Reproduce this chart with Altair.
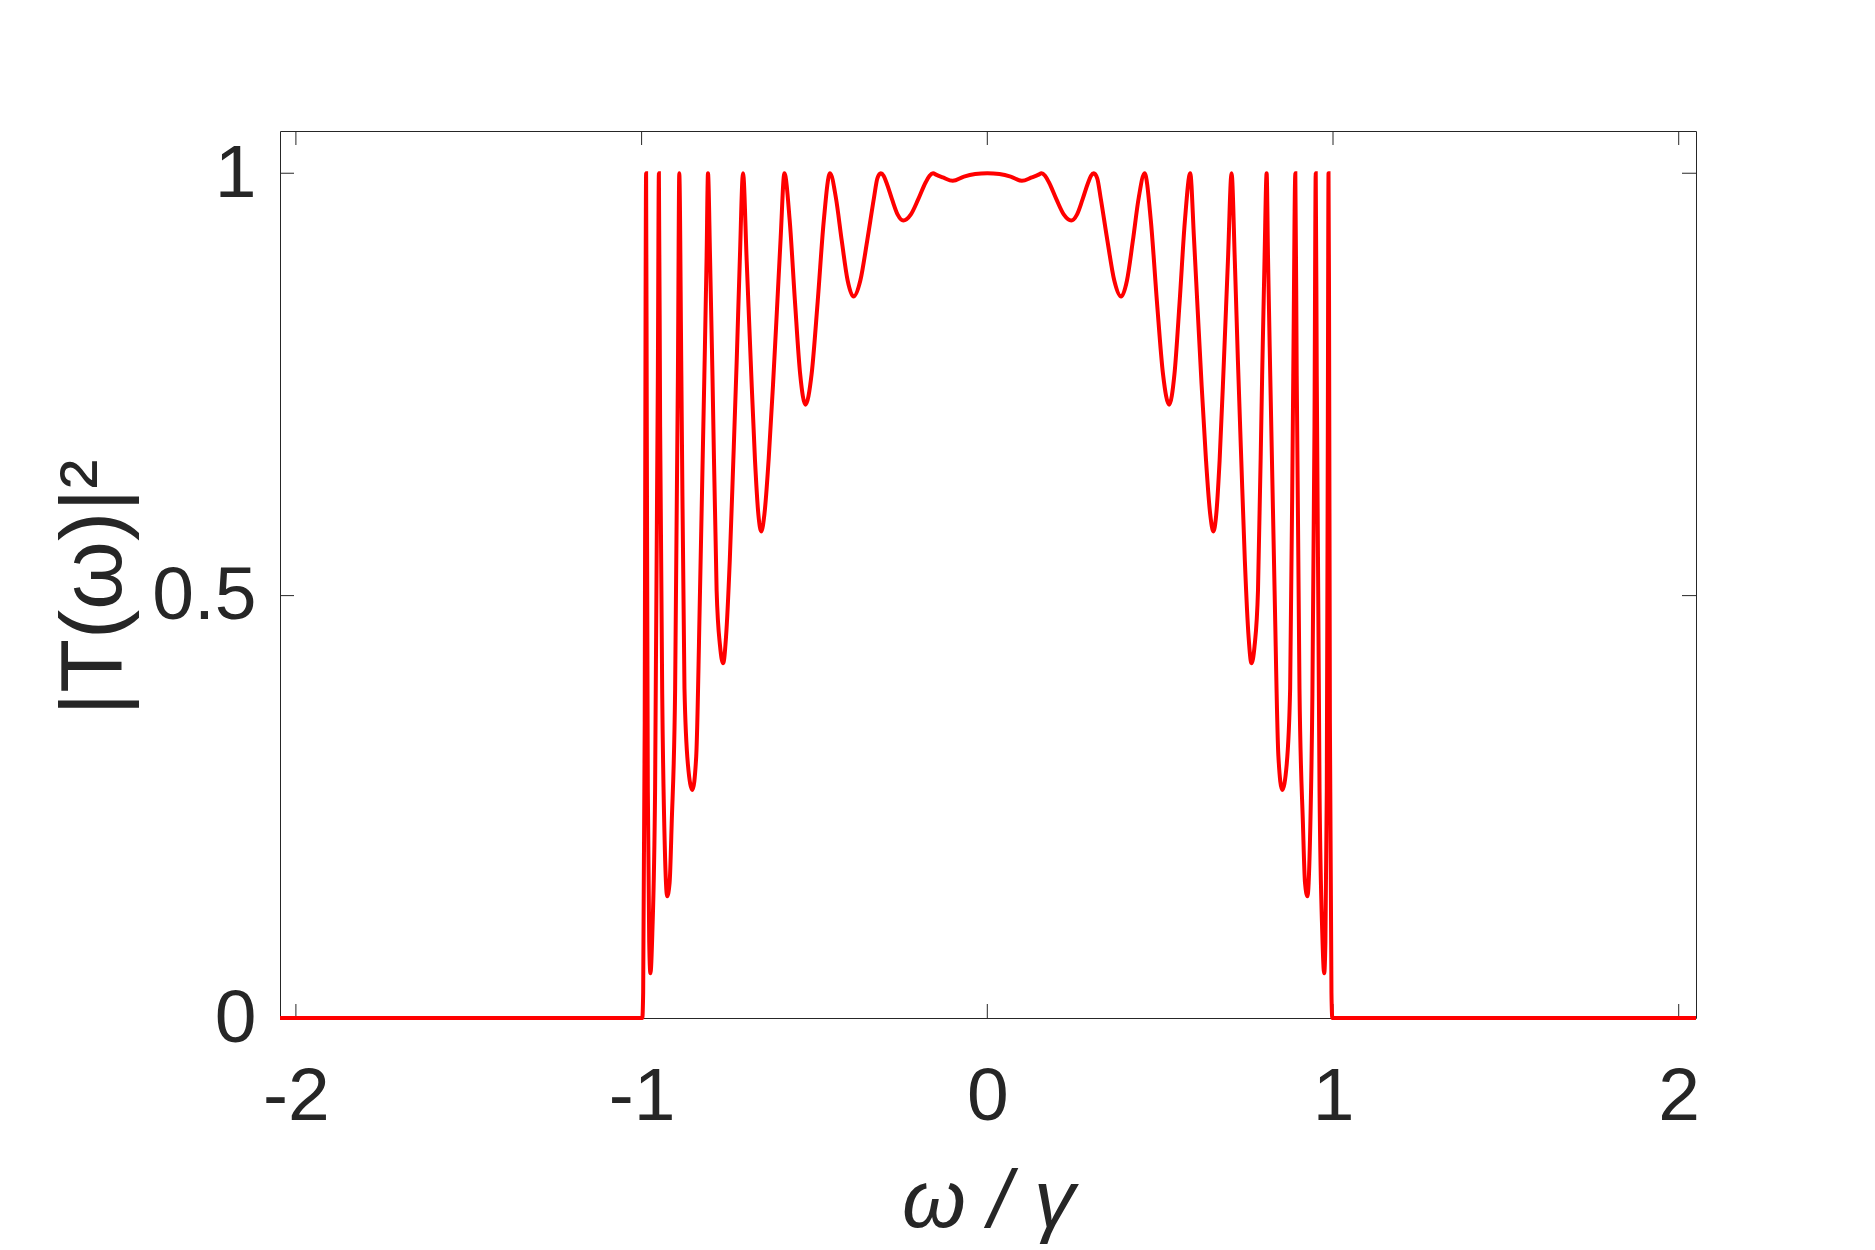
import altair as alt
import pandas as pd

# ---- data ----
omega_left = [-2.046, -0.998, -0.9955, -0.991, -0.9885, -0.987, -0.985, -0.982, -0.978, -0.9745,
              -0.969, -0.961, -0.953, -0.950, -0.9464, -0.9404, -0.933, -0.926, -0.919, -0.913,
              -0.903, -0.895, -0.891, -0.885, -0.876, -0.866, -0.853, -0.842, -0.831, -0.8185,
              -0.812, -0.808, -0.802, -0.795, -0.783, -0.773, -0.764, -0.756, -0.745, -0.7347,
              -0.7249, -0.716, -0.7066, -0.696, -0.6844, -0.672, -0.662, -0.654, -0.6446, -0.6319,
              -0.6198, -0.6084, -0.5977, -0.587, -0.5718, -0.5565, -0.5413, -0.526, -0.5083, -0.4905,
              -0.4728, -0.455, -0.438, -0.421, -0.404, -0.387, -0.3673, -0.3475, -0.3278, -0.318,
              -0.308, -0.300, -0.2918, -0.2755, -0.2593, -0.243, -0.2215, -0.200, -0.1785, -0.167,
              -0.157, -0.147, -0.1285, -0.100, -0.0675, -0.035, 0.0]
T_left = [0.0, 0.0, 0.03, 0.35, 0.85, 1.0, 0.70, 0.27, 0.09, 0.053,
          0.10, 0.27, 0.76, 1.0, 0.70, 0.384, 0.204, 0.144, 0.16, 0.23,
          0.39, 0.76, 1.0, 0.76, 0.39, 0.30, 0.27, 0.31, 0.506, 0.76,
          0.90, 1.0, 0.90, 0.76, 0.506, 0.44, 0.42, 0.45, 0.541, 0.66,
          0.778, 0.896, 1.0, 0.896, 0.778, 0.66, 0.595, 0.576, 0.597, 0.665,
          0.75, 0.839, 0.924, 1.0, 0.945, 0.849, 0.762, 0.726, 0.762, 0.849,
          0.945, 1.0, 0.971, 0.92, 0.873, 0.854, 0.873, 0.92, 0.971, 0.994,
          1.0, 0.997, 0.989, 0.969, 0.951, 0.944, 0.951, 0.969, 0.989, 0.997,
          1.0, 0.998, 0.995, 0.991, 0.996, 0.999, 1.0]

omega_right = [0.035, 0.0675, 0.100, 0.1285, 0.147, 0.157, 0.167, 0.1785, 0.200, 0.2215,
               0.243, 0.2593, 0.2755, 0.2918, 0.300, 0.308, 0.318, 0.3278, 0.3475, 0.3673,
               0.387, 0.404, 0.421, 0.438, 0.455, 0.4728, 0.4905, 0.5083, 0.526, 0.5413,
               0.5565, 0.5718, 0.587, 0.5977, 0.6084, 0.6198, 0.6319, 0.6446, 0.654, 0.662,
               0.672, 0.6844, 0.696, 0.7066, 0.716, 0.7249, 0.7347, 0.745, 0.756, 0.764,
               0.773, 0.783, 0.795, 0.802, 0.808, 0.812, 0.8185, 0.831, 0.842, 0.853,
               0.866, 0.876, 0.885, 0.891, 0.895, 0.903, 0.913, 0.919, 0.926, 0.933,
               0.9404, 0.9464, 0.950, 0.953, 0.961, 0.969, 0.9745, 0.978, 0.982, 0.985,
               0.987, 0.9885, 0.991, 0.9955, 0.998, 2.05]
T_right = [0.999, 0.996, 0.991, 0.995, 0.998, 1.0, 0.997, 0.989, 0.969, 0.951,
           0.944, 0.951, 0.969, 0.989, 0.997, 1.0, 0.994, 0.971, 0.92, 0.873,
           0.854, 0.873, 0.92, 0.971, 1.0, 0.945, 0.849, 0.762, 0.726, 0.762,
           0.849, 0.945, 1.0, 0.924, 0.839, 0.75, 0.665, 0.597, 0.576, 0.595,
           0.66, 0.778, 0.896, 1.0, 0.896, 0.778, 0.66, 0.541, 0.45, 0.42,
           0.44, 0.506, 0.76, 0.90, 1.0, 0.90, 0.76, 0.506, 0.31, 0.27,
           0.30, 0.39, 0.76, 1.0, 0.76, 0.39, 0.23, 0.16, 0.144, 0.204,
           0.384, 0.70, 1.0, 0.76, 0.27, 0.10, 0.053, 0.09, 0.27, 0.70,
           1.0, 0.85, 0.35, 0.03, 0.0, 0.0]

x_ticks = [-2, -1, 0, 1, 2]
y_ticks = [0, 0.5, 1]

x_domain = [-2.046, 2.05]
y_domain = [0, 1.05]

# ---- build ----
df_line = pd.DataFrame({"w": omega_left + omega_right, "T": T_left + T_right})
df_xt = pd.DataFrame({"w": x_ticks})
df_yt = pd.DataFrame({"T": y_ticks})

W, H = 1416, 887
TICK = 14
INK = "#262626"

xs = alt.Scale(domain=x_domain, nice=False, zero=False)
ys = alt.Scale(domain=y_domain, nice=False, zero=False)

xaxis = alt.Axis(
    values=x_ticks, labelExpr="toString(datum.value)", grid=False, ticks=False, domain=False,
    labelFont="Liberation Sans", labelFontSize=75, labelColor=INK, labelPadding=42,
    labelFlush=False, labelOverlap=False,
    title="ω / γ", titleFont="Liberation Sans", titleFontStyle="italic", titleFontSize=82,
    titleFontWeight="normal", titleColor=INK, titleY=208, titleBaseline="alphabetic",
)
yaxis = alt.Axis(
    values=y_ticks, labelExpr="toString(datum.value)", grid=False, ticks=False, domain=False,
    labelFont="Liberation Sans", labelFontSize=75, labelColor=INK, labelPadding=24,
    labelFlush=False, labelOverlap=False,
    title="|T(ω)|²", titleFont="Liberation Sans", titleFontSize=88, titleFontWeight="normal",
    titleColor=INK, titleAngle=270, titleX=-142, titleY=456, titleBaseline="bottom",
    titleAlign="center",
)

line = alt.Chart(df_line).mark_line(color="#ff0000", strokeWidth=4, interpolate="monotone").encode(
    x=alt.X("w:Q", scale=xs, axis=xaxis),
    y=alt.Y("T:Q", scale=ys, axis=yaxis),
)

xt_bottom = alt.Chart(df_xt).mark_rule(color=INK, strokeWidth=1).encode(
    x=alt.X("w:Q", scale=xs, axis=xaxis), y=alt.value(H), y2=alt.value(H - TICK)
)
xt_top = alt.Chart(df_xt).mark_rule(color=INK, strokeWidth=1).encode(
    x=alt.X("w:Q", scale=xs, axis=xaxis), y=alt.value(0), y2=alt.value(TICK)
)
yt_left = alt.Chart(df_yt).mark_rule(color=INK, strokeWidth=1).encode(
    y=alt.Y("T:Q", scale=ys, axis=yaxis), x=alt.value(0), x2=alt.value(TICK)
)
yt_right = alt.Chart(df_yt).mark_rule(color=INK, strokeWidth=1).encode(
    y=alt.Y("T:Q", scale=ys, axis=yaxis), x=alt.value(W), x2=alt.value(W - TICK)
)

chart = alt.layer(xt_bottom, xt_top, yt_left, yt_right, line).properties(
    width=W, height=H,
    autosize=alt.AutoSizeParams(type="none"),
    padding={"left": 272, "top": 123, "right": 40, "bottom": 226},
    background="white",
).configure_view(stroke=INK, strokeWidth=1)

chart.save("out.html", embed_options={"renderer": "svg", "actions": False})
